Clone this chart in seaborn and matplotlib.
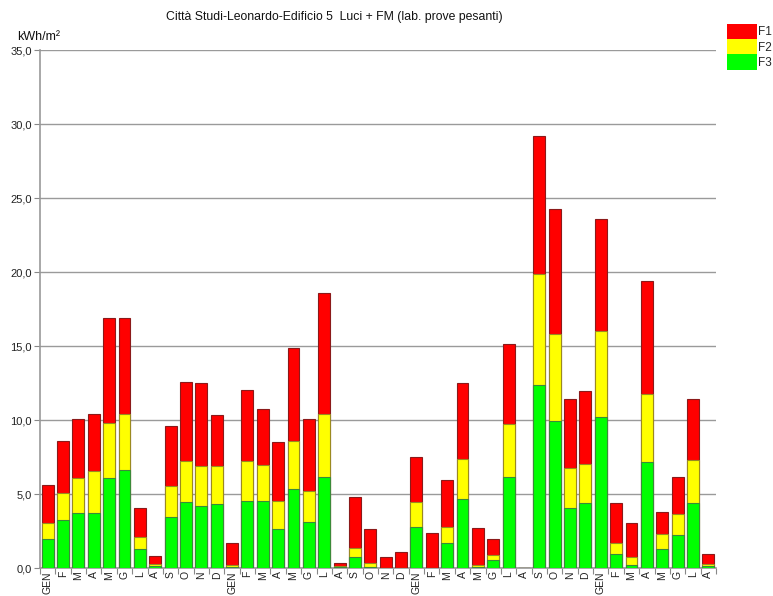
import matplotlib
matplotlib.use("Agg")
import matplotlib.pyplot as plt
import seaborn as sns
import numpy as np
import pandas as pd
from matplotlib.patches import Patch
from matplotlib.ticker import FuncFormatter, MultipleLocator

sns.set_theme(style="white")
plt.rcParams['font.family'] = ['Liberation Sans Narrow', 'Liberation Sans', 'DejaVu Sans']

months = ["GEN", "F", "M", "A", "M", "G", "L", "A", "S", "O", "N", "D"] * 3 + \
         ["GEN", "F", "M", "A", "M", "G", "L", "A"]

f3 = [1.96, 3.26, 3.74, 3.74, 6.10, 6.62, 1.33, 0.15, 3.49, 4.48, 4.21, 4.34,
      0.10, 4.55, 4.55, 2.68, 5.34, 3.15, 6.15, 0.08, 0.79, 0.11, 0.02, 0.02,
      2.81, 0.01, 1.69, 4.70, 0.10, 0.56, 6.15, 0.00, 12.39, 9.95, 4.05, 4.39,
      10.24, 0.97, 0.22, 7.20, 1.28, 2.25, 4.39, 0.15]
f2 = [1.12, 1.85, 2.36, 2.83, 3.72, 3.83, 0.76, 0.15, 2.09, 2.77, 2.70, 2.57,
      0.12, 2.70, 2.41, 1.87, 3.24, 2.07, 4.28, 0.08, 0.60, 0.23, 0.02, 0.03,
      1.67, 0.04, 1.08, 2.69, 0.12, 0.34, 3.60, 0.00, 7.47, 5.86, 2.75, 2.64,
      5.81, 0.72, 0.57, 4.60, 1.04, 1.40, 2.93, 0.14]
f1 = [2.55, 3.49, 4.01, 3.83, 7.05, 6.42, 1.96, 0.55, 4.01, 5.32, 5.59, 3.43,
      1.49, 4.80, 3.78, 4.01, 6.28, 4.89, 8.15, 0.22, 3.41, 2.34, 0.75, 1.07,
      3.06, 2.31, 3.20, 5.11, 2.48, 1.10, 5.38, 0.00, 9.35, 8.45, 4.64, 4.95,
      7.53, 2.70, 2.25, 7.57, 1.51, 2.54, 4.12, 0.68]

df = pd.DataFrame({
    "pos": np.arange(len(months)),
    "F3": f3, "F2": f2, "F1": f1,
})
df["lvl2"] = df["F3"] + df["F2"]
df["lvl1"] = df["lvl2"] + df["F1"]

W, H = 773, 596
fig = plt.figure(figsize=(W / 100, H / 100), dpi=100)
ax = fig.add_axes([40 / W, (H - 568.3) / H, (716 - 40) / W, (568.3 - 50) / H])

red, yellow, green = "#FF0000", "#FFFF00", "#00FF00"
sns.barplot(data=df, x="pos", y="lvl1", color=red, saturation=1, width=0.78,
            edgecolor="#8B1A1A", linewidth=0.8, ax=ax, zorder=3)
sns.barplot(data=df, x="pos", y="lvl2", color=yellow, saturation=1, width=0.78,
            edgecolor="#9A8A20", linewidth=0.8, ax=ax, zorder=4)
sns.barplot(data=df, x="pos", y="F3", color=green, saturation=1, width=0.78,
            edgecolor="#3A8A3A", linewidth=0.8, ax=ax, zorder=5)

ax.set_ylim(0, 35)
ax.set_xlim(-0.5, len(months) - 0.5)
ax.yaxis.set_major_locator(MultipleLocator(5))
ax.yaxis.set_major_formatter(FuncFormatter(lambda v, p: f"{v:.1f}".replace(".", ",")))
ax.set_xticks(np.arange(len(months)))
ax.set_xticklabels(months, rotation=90, fontsize=7.5, color="#222222")
ax.set_xticks(np.arange(len(months) + 1) - 0.5, minor=True)
ax.tick_params(axis="x", which="major", length=0, pad=2)
ax.tick_params(axis="x", which="minor", length=4, color="#888888", width=0.8, bottom=True)
ax.tick_params(axis="y", length=4, color="#888888", width=0.8, left=True,
               labelsize=8, labelcolor="#222222", pad=2)
ax.set_xlabel("")
ax.set_ylabel("")

ax.grid(axis="y", color="#9a9a9a", linewidth=1.0, zorder=0)
ax.set_axisbelow(True)
for s in ["top", "right"]:
    ax.spines[s].set_visible(False)
for s in ["left", "bottom"]:
    ax.spines[s].set_color("#999999")
    ax.spines[s].set_linewidth(1.2)

fig.text(334 / W, 1 - 17 / H, "Città Studi-Leonardo-Edificio 5  Luci + FM (lab. prove pesanti)",
         ha="center", va="center", fontsize=8.8, color="#111111")
fig.text(17 / W, 1 - 37 / H, "kWh/m²", ha="left", va="center", fontsize=9, color="#111111")

handles = [Patch(facecolor=red, edgecolor="none", label="F1"),
           Patch(facecolor=yellow, edgecolor="none", label="F2"),
           Patch(facecolor=green, edgecolor="none", label="F3")]
fig.legend(handles=handles, loc="upper left", bbox_to_anchor=(727 / W, 1 - 24 / H),
           frameon=False, fontsize=8.5, handlelength=2.5, handleheight=1.6,
           labelspacing=0, borderpad=0, handletextpad=0.12, borderaxespad=0)

fig.savefig("out.png", dpi=100)
